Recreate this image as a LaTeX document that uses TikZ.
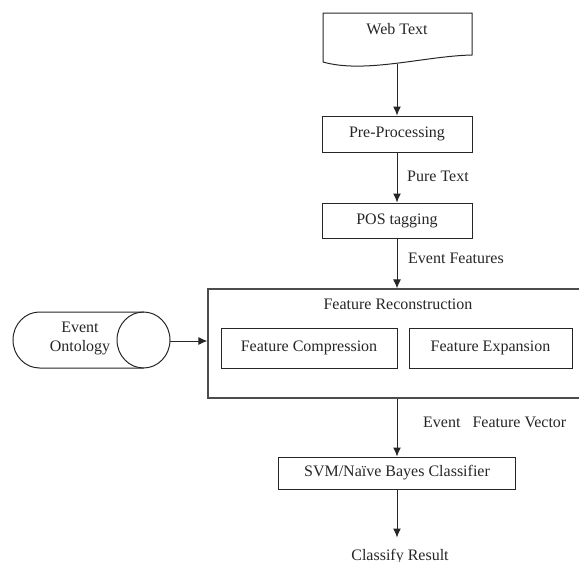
\documentclass[tikz,border=0pt]{standalone}
\usepackage{fontspec}
\setmainfont{Liberation Serif}
\usetikzlibrary{positioning}
\usetikzlibrary{arrows.meta}
\tikzset{
  boxNode/.style={%
    rectangle, draw=black!85, line width=1pt, inner sep=0pt,
    minimum width=150pt, minimum height=36pt,
    font=\fontsize{16}{19}\selectfont, text=black!85,
  },
  textNode/.style={%
    inner sep=0pt, font=\fontsize{16}{19}\selectfont, text=black!85,
  },
  flowArrow/.style={%
    -{Latex[length=9pt,width=8pt]}, line width=1pt, draw=black!85,
  }
}

\begin{document}
\begin{tikzpicture}[x=1pt,y=-1pt]
        \useasboundingbox (0,0) rectangle (579,562);
        % web text (document shape)
        \draw[line width=1pt, draw=black!85] (323,62) -- (323,13) -- (472,13) -- (472,55)
          .. controls (425,56) and (365,74) .. (323,62);
        \node[textNode] (web) at (397,29) {Web Text};
        \coordinate (webEnd) at (397,63.5);
        % processing steps
        \node[boxNode] (pre) at (397,134) {Pre-Processing};
        \node[boxNode, minimum height=35pt] (pos) at (397,220.5) {POS tagging};
        \node[boxNode, draw=black!70, line width=1.3pt, minimum width=378pt, minimum height=109pt] (recon) at (397,343.5) {};
        \node[textNode, anchor=base] (reconLabel) at (398,309) {Feature Reconstruction};
        \node[boxNode, minimum width=176pt, minimum height=40pt] (comp) at (309,348) {Feature Compression};
        \node[boxNode, minimum width=163pt, minimum height=40pt] (expa) at (490.5,348) {Feature Expansion};
        \node[boxNode, minimum width=237pt, minimum height=32pt] (svm) at (397,473) {SVM/Naïve Bayes Classifier};
        \node[textNode, anchor=base] (result) at (400,560) {Classify Result};
        % ontology (cylinder)
        \draw[line width=1pt, draw=black!85] (143.5,312) -- (39.5,312) arc (270:90:26.5 and 28) -- (143.5,368);
        \draw[line width=1pt, draw=black!85] (143.5,340) ellipse (26.5 and 28);
        \node[textNode, align=center] (onto) at (80,338) {Event\\Ontology};
        \coordinate (ontoEnd) at (170,341);
        % edge labels
        \node[textNode, anchor=base west] (pureText) at (407,181) {Pure Text};
        \node[textNode, anchor=base west] (eventFeat) at (408,263) {Event Features};
        \node[textNode, anchor=base west] (featVec) at (423,427) {Event\ \ \ Feature Vector};
        % connectors
        \draw[flowArrow] (webEnd) -- (pre.north);
        \draw[flowArrow] (pre.south) -- (pos.north);
        \draw[flowArrow] (pos.south) -- (recon.north);
        \draw[flowArrow] (recon.south) -- (svm.north);
        \draw[flowArrow] (svm.south) -- ++(0,48);
        \draw[flowArrow] (ontoEnd) -- (ontoEnd -| recon.west);
      \end{tikzpicture}
\end{document}
